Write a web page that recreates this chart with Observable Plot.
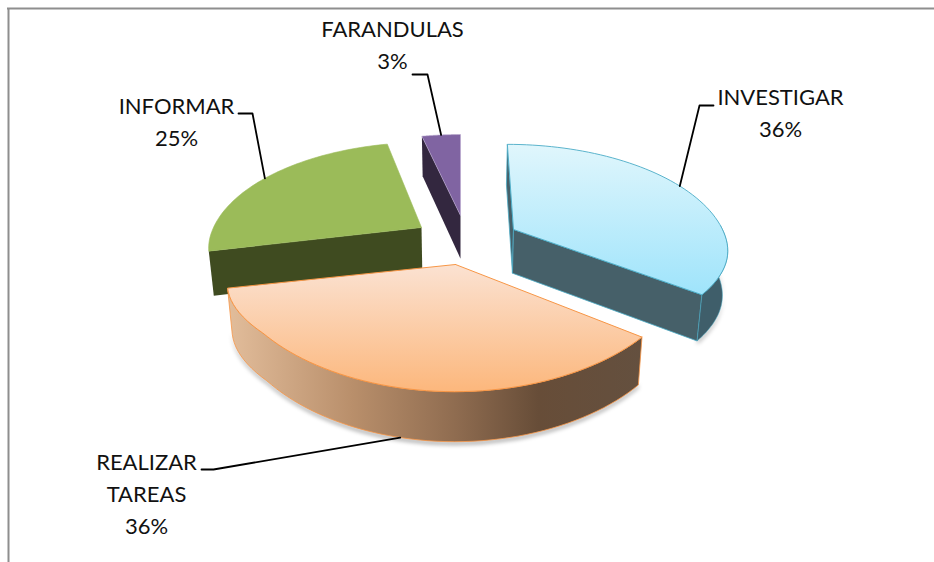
<!DOCTYPE html>
<html>
<head>
<meta charset="utf-8">
<script src="https://cdn.jsdelivr.net/npm/d3@7"></script>
<script src="https://cdn.jsdelivr.net/npm/@observablehq/plot@0.6"></script>
<style>
html,body{margin:0;padding:0;background:#fff;overflow:hidden}
.soft{filter:blur(2px)}
svg{display:block}
</style>
</head>
<body>
<div id="chart"></div>
<script>
const categories = ["INVESTIGAR", "REALIZAR\nTAREAS", "INFORMAR", "FARANDULAS"];
const shares = [36, 36, 25, 3];
const percentLabels = ["36%", "36%", "25%", "3%"];
const topFills = ["url(#gBlue)", "url(#gOrange)", "#9bbb59", "#8064a2"];
const wallFills = ["#466069", "url(#gBrown)", "#3f4b20", "#33273f"];
const edgeColors = ["#4bacc6", "#f79646", "#9bbb59", "#b9a8cf"];

// layout of the pseudo-3D pie
const apexX = [513, 455, 421, 460];
const apexY = [229, 264, 227, 215];
const radiusX = [209, 224, 208, 208];
const radiusY = [102, 102, 102, 97];
const startTrim = [0, -1, -2, -2];
const endTrim = [-5, -2, -2, 0];
const tilt = 0.198, vanishX = 460, lean = 0.7, bottomScale = 0.98;
const labelX = [780, 146, 176, 392];
const labelY = [110, 491, 119, 42];
const elbows = [[[713,105],[699,105]], [[201,469],[213,469]], [[238,113],[252,113]], [[412,74],[427,74]]];

// slice angles from the values
const total = d3.sum(shares);
let acc = 0;
const slices = shares.map((v, i) => {
  const a0 = acc / total * 360 + startTrim[i]; acc += v;
  const a1 = acc / total * 360 + endTrim[i];
  return {i, a0, a1, mid: (a0 + a1) / 2};
});

function topPt(i, deg) {
  const t = deg * Math.PI / 180, c = Math.cos(t), s = 1 / (1 + tilt * c);
  const p = c > 0 ? 1 : 1 - 0.5 * Math.min(1, -c / 0.6) ** 2;
  return {
    x: apexX[i] + radiusX[i] * Math.sin(t) * s ** p + (apexX[i] - vanishX) * (s - 1) * lean,
    y: apexY[i] - radiusY[i] * c * s
  };
}
const depth = y => 40 + (y - 135) * 10 / 256;
const drop = p => ({x: vanishX + (p.x - vanishX) * bottomScale, y: p.y + depth(p.y)});
const apex = i => ({x: apexX[i], y: apexY[i]});
const arc = (i, a, b) => d3.range(0, 61).map(k => topPt(i, a + (b - a) * k / 60));
const closed = pts => [...pts, pts[0]];

const topFace = i => closed([apex(i), ...arc(i, slices[i].a0, slices[i].a1)]);
const radialWall = (i, deg) => { const p = topPt(i, deg), q = apex(i); return closed([q, p, drop(p), drop(q)]); };
const arcWall = (i, a, b) => { const t = arc(i, a, b); return closed([...t, ...t.map(drop).reverse()]); };
const shadow = (i, a, b) => {
  const t = arc(i, a, b).map(drop);
  return closed([...t, ...t.map(p => ({x: p.x, y: p.y + 3})).reverse()]);
};

const poly = (data, fill, stroke, sw, extra = {}) =>
  Plot.line(data, {x: "x", y: "y", fill, stroke: stroke || "none", strokeWidth: sw || 0, strokeLinejoin: "round", ...extra});

const defs = () => {
  const d = d3.create("svg:defs");
  const grad = (id, x2, y2, stops) => {
    const g = d.append("linearGradient").attr("id", id).attr("x1", 0).attr("y1", 0).attr("x2", x2).attr("y2", y2);
    stops.forEach(([o, c]) => g.append("stop").attr("offset", o).attr("stop-color", c));
  };
  grad("gBlue", 0, 1, [[0, "#e0f6fc"], [1, "#9fe4fb"]]);
  grad("gOrange", 0, 1, [[0, "#fbe2d2"], [1, "#fcb77c"]]);
  grad("gBrown", 1, 0, [[0, "#e2bd9b"], [0.3, "#b98f6b"], [0.55, "#8f6c50"], [0.75, "#674d38"], [1, "#64503f"]]);
  return d.node();
};

const leaders = slices.map(s => {
  const p = topPt(s.i, s.mid);
  const end = s.i === 1 ? drop(p) : p;
  return [...elbows[s.i].map(([x, y]) => ({x, y})), end];
});

const chart = Plot.plot({
  width: 934, height: 562, margin: 0,
  style: {background: "#fff"},
  x: {domain: [0, 934], range: [0, 934], axis: null},
  y: {domain: [0, 562], range: [0, 562], axis: null},
  marks: [
    defs,
    Plot.ruleY([8], {x1: 7, x2: 934, stroke: "#8e8e8e", strokeWidth: 2}),
    Plot.ruleX([8], {y1: 8, y2: 562, stroke: "#8e8e8e", strokeWidth: 2}),

    // FARANDULAS
    poly(radialWall(3, slices[3].a0), wallFills[3]),
    poly(topFace(3), topFills[3], edgeColors[3], 0.6),

    // INFORMAR
    poly(radialWall(2, slices[2].a0), wallFills[2]),
    poly(topFace(2), topFills[2], edgeColors[2], 0.6),

    // INVESTIGAR
    poly(shadow(0, 90, slices[0].a1), "#000", null, 0, {fillOpacity: 0.4, className: "soft"}),
    poly(radialWall(0, slices[0].a0), wallFills[0], edgeColors[0], 0.8),
    poly(radialWall(0, slices[0].a1), wallFills[0], edgeColors[0], 0.8),
    poly(arcWall(0, 88, slices[0].a1), "#3f5e6a", edgeColors[0], 0.5),
    poly(topFace(0), topFills[0], edgeColors[0], 0.9),

    // REALIZAR TAREAS
    poly(shadow(1, slices[1].a0, slices[1].a1), "#000", null, 0, {fillOpacity: 0.4, className: "soft"}),
    poly(arcWall(1, slices[1].a0, slices[1].a1), wallFills[1], edgeColors[1], 0.8),
    poly(topFace(1), topFills[1], edgeColors[1], 1),

    // leaders
    ...leaders.map(l => Plot.line(l, {x: "x", y: "y", stroke: "#000", strokeWidth: 1.8})),

    // labels
    Plot.text(slices, {
      x: s => labelX[s.i],
      y: s => labelY[s.i],
      text: s => categories[s.i] + "\n" + percentLabels[s.i],
      fontFamily: "Lato, Carlito, sans-serif",
      fontSize: 22,
      lineHeight: 1.4545,
      textAnchor: "middle",
      lineAnchor: "middle",
      fill: "#111"
    })
  ]
});
document.getElementById("chart").append(chart);
</script>
</body>
</html>
